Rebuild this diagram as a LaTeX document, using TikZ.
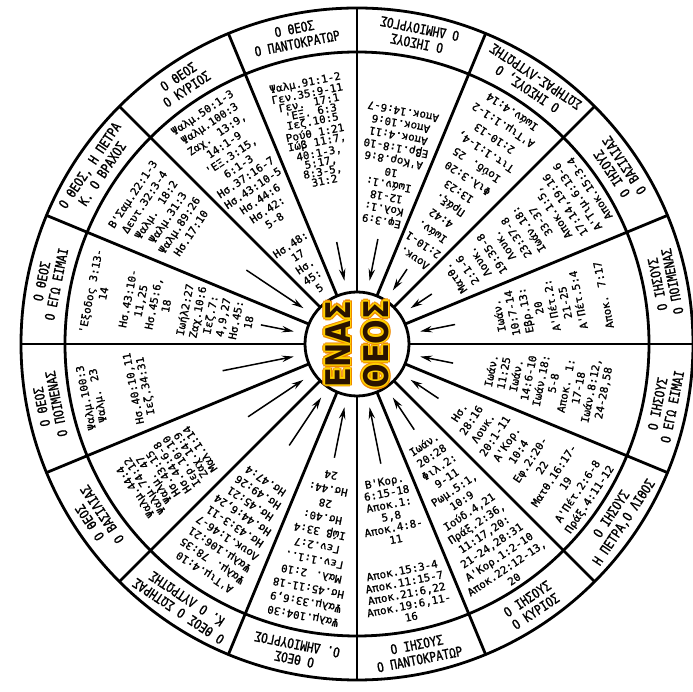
\documentclass[tikz,border=0pt]{standalone}
\usepackage{fontspec}
\usetikzlibrary{arrows.meta}
\newfontfamily\versefont[FakeStretch=1.03, FakeBold=1]{DejaVu Sans Mono}
\newfontfamily\namefont[FakeStretch=0.82, FakeBold=1]{DejaVu Sans Mono}
\newfontfamily\hubfont[FakeStretch=0.85]{DejaVu Sans Bold}
\definecolor{glowyellow}{HTML}{FFD000}
\definecolor{gloworange}{HTML}{EE8A00}
\definecolor{wordbrown}{HTML}{2A1200}

\begin{document}
\begin{tikzpicture}[x=1pt, y=1pt,
    ringline/.style={line width=2.8pt, draw=black},
    sectorname/.style={font=\namefont\fontsize{13.5}{15}\selectfont, align=center, inner sep=0pt},
    verses/.style={font=\versefont\fontsize{10.6}{#1}\selectfont, align=center, inner sep=0pt},
    hub/.style={circle, draw=black, line width=2.8pt, fill=white, minimum size=104pt, inner sep=0pt},
    word/.style={font=\hubfont\fontsize{34}{38}\selectfont, align=center, rotate=90, inner sep=0pt},
    pointer/.style={-{Stealth[length=12pt, width=6.5pt]}, line width=1.5pt, shorten >=11pt}
]
\fill[white] (-357,-348) rectangle (336,344);
\useasboundingbox (-357,-348) rectangle (336,344);

% wheel
\draw[ringline] (0,0) circle[radius=336];
\draw[ringline] (0,0) circle[radius=292];
\foreach \a in {0,22.5,...,337.5}
  \draw[ringline] (\a:52) -- (\a:336);
\node[hub] (hub) at (0,0) {};

% centre words
\foreach \k in {0,45,...,315}
  \node[word, text=gloworange] (halo\k) at (\k:2.8) {ΕΝΑΣ\\ΘΕΟΣ};
\foreach \k in {0,45,...,315}
  \node[word, text=glowyellow] (glow\k) at (\k:1.5) {ΕΝΑΣ\\ΘΕΟΣ};
\node[word, text=wordbrown] (word) at (0,0) {ΕΝΑΣ\\ΘΕΟΣ};

% arrows towards the centre
\foreach \a/\t [count=\i] in {101.25/104, 146.25/133, 168.75/98, 191.25/137,
    213.75/131, 236.25/122, 258.75/116, 281.25/122, 303.75/103, 326.25/98,
    348.75/98, 11.25/100, 33.75/90, 56.25/90, 78.75/107} {
  \coordinate (tail\i) at (\a:\t);
  \draw[pointer] (tail\i) -- (hub);
}

% names of God
\node[sectorname, rotate=11.25]  (gPant) at (101.25:314) {Ο ΘΕΟΣ\\Ο ΠΑΝΤΟΚΡΑΤΩΡ};
\node[sectorname, rotate=33.75]  (gKyr)  at (123.75:314) {Ο ΘΕΟΣ\\Ο ΚΥΡΙΟΣ};
\node[sectorname, rotate=56.25]  (gPet)  at (146.25:314) {Ο ΘΕΟΣ, Η ΠΕΤΡΑ\\Κ. Ο ΒΡΑΧΟΣ};
\node[sectorname, rotate=78.75]  (gEgo)  at (168.75:314) {Ο ΘΕΟΣ\\Ο ΕΓΩ ΕΙΜΑΙ};
\node[sectorname, rotate=101.25] (gPoi)  at (191.25:314) {Ο ΘΕΟΣ\\Ο ΠΟΙΜΕΝΑΣ};
\node[sectorname, rotate=123.75] (gBas)  at (213.75:314) {Ο ΘΕΟΣ\\Ο ΒΑΣΙΛΙΑΣ};
\node[sectorname, rotate=146.25] (gSot)  at (236.25:314) {Ο ΘΕΟΣ Ο ΣΩΤΗΡΑΣ\\Κ. Ο ΛΥΤΡΩΤΗΣ};
\node[sectorname, rotate=168.75] (gDim)  at (258.75:314) {Ο ΘΕΟΣ\\Ο. ΔΗΜΙΟΥΡΓΟΣ};

% names of Jesus
\node[sectorname, rotate=168.75] (jDim)  at (78.75:314)  {Ο ΙΗΣΟΥΣ\\Ο ΔΗΜΙΟΥΡΓΟΣ};
\node[sectorname, rotate=146.25] (jSot)  at (56.25:314)  {Ο ΙΗΣΟΥΣ, Ο\\ΣΩΤΗΡΑΣ-ΛΥΤΡΩΤΗΣ};
\node[sectorname, rotate=123.75] (jBas)  at (33.75:314)  {Ο ΙΗΣΟΥΣ\\Ο ΒΑΣΙΛΙΑΣ};
\node[sectorname, rotate=101.25] (jPoi)  at (11.25:314)  {Ο ΙΗΣΟΥΣ\\Ο ΠΟΙΜΕΝΑΣ};
\node[sectorname, rotate=78.75]  (jEgo)  at (-11.25:314) {Ο ΙΗΣΟΥΣ\\Ο ΕΓΩ ΕΙΜΑΙ};
\node[sectorname, rotate=56.25]  (jPet)  at (-33.75:314) {Ο ΙΗΣΟΥΣ\\Η ΠΕΤΡΑ,Ο ΛΙΘΟΣ};
\node[sectorname, rotate=33.75]  (jKyr)  at (-56.25:314) {Ο ΙΗΣΟΥΣ\\Ο ΚΥΡΙΟΣ};
\node[sectorname, rotate=11.25]  (jPant) at (-78.75:314) {Ο ΙΗΣΟΥΣ\\Ο ΠΑΝΤΟΚΡΑΤΩΡ};

% references, God half (first line outermost)
\node[verses=9.45, rotate=11.25, anchor=north] (gPantRef) at (101.25:271) {Ψαλμ.91:1-2\\Γεν.35:9-11\\Γεν. 17:1\\'ΕΞ. 6:3\\Ιεζ.10:5\\Ρούθ 1:21\\Ιώβ 11:7,\\40:1-3,\\5:17,\\8:3-5,\\31:2};
\node[verses=13, rotate=33.75, anchor=north] (gKyrRef) at (123.75:283) {Ψαλμ.50:1-3\\Ψαλμ.100:3\\Ζαχ. 13:9,\\14:1-9\\'ΕΞ.3:15,\\6:1-3\\Ησ.37:16-7\\Ησ.43:10-5\\Ησ.44:6\\Ησ.42:\\5-8\\[16pt]Ησ.48:\\17\\Ησ.\\45:\\5};
\node[verses=14, rotate=56.25, anchor=north] (gPetRef) at (146.25:274) {Β'Σαμ.22:1-3\\Δευτ.32:3-4\\Ψαλμ. 18:2\\Ψαλμ.31:3\\Ψαλμ.89:26\\Ησ.17:10};
\node[verses=13, rotate=78.75, anchor=north] (gEgoRef) at (168.75:276) {'Εξοδος 3:13-\\14\\[12pt]Ησ.43:10-\\11,25\\Ησ.45:6,\\18\\[6pt]Ιωήλ2:27\\Ζαχ.10:6\\Ιεζ.7:\\4,9,27\\Ησ.45:\\18};
\node[verses=12.2, rotate=101.25, anchor=north] (gPoiRef) at (191.25:281) {Ψαλμ.100:3\\Ψαλμ. 23\\[24pt]Ησ.40:10,11\\Ιεζ.34:31};
\node[verses=11.1, rotate=123.75, anchor=north] (gBasRef) at (213.75:271) {Ψαλμ.44:4\\Ψαλμ.74:12\\Ψαλμ. 47\\Ησ.43:15\\Ησ.44:6-8\\Ιερ.10:10\\Ζαχ.14:9\\Μαλ.1:14};
\node[verses=13.75, rotate=146.25, anchor=north] (gSotRef) at (236.25:279) {Α'Τιμ.4:10\\Ψαλμ. 78:35\\Ψαλμ.106:21\\Λουκ.1:46-7\\Ησ.43:3-11\\Ησ.44:6,24\\Ησ.45:21\\Ησ.49:26\\Ησ.47:4};
\node[verses=14.4, rotate=168.75, anchor=north] (gDimRef) at (258.75:282) {Ψαλμ.104:30\\Ψαλμ.33:6,9\\Ησ.45:11-18\\Μαλ. 2:10\\Γεν.1:1..\\Γεν.2:7\\Ιώβ 33:4\\Ησ.40:\\28\\Ησ.44:\\24};

% references, Jesus half (first line innermost)
\node[verses=12.4, rotate=168.75, anchor=north] (jDimRef) at (78.75:121) {Εφ.3:9\\Κολ.1:\\12-18\\Ιωάν.1:\\10\\Α'Κορ.8:6\\Εβρ.1:8-10\\Αποκ.4:11\\Αποκ.10:6\\Αποκ.14:6-7};
\node[verses=16, rotate=146.25, anchor=north] (jSotRef) at (56.25:99) {Λουκ.\\2:10-1\\Ιωάν.\\4:42\\Πράξ.\\13:23\\Φιλ.3:20\\Ιούδ. 25\\Τιτ.1:1-4,\\2:10-13\\Α'Τιμ.1:1-2\\Ιωάν.4:14};
\node[verses=14.7, rotate=123.75, anchor=north] (jBasRef) at (33.75:114) {Ματθ.\\2:1-6\\Λουκ.\\19:35-8\\Λουκ.\\23:37-8\\Ιωάν.18:\\33-37\\Αποκ.1:5,\\17:14,19:16\\Α'Τιμ.6:13-6\\Αποκ.15:3-4};
\node[verses=13.5, rotate=101.25, anchor=north] (jPoiRef) at (11.25:140) {Ιωάν.\\10:7-14\\Εβρ.13:\\20\\Α'Πέτ.2:\\21-25\\Α'Πέτ.5:4\\[12pt]Αποκ. 7:17};
\node[verses=12.7, rotate=78.75, anchor=north] (jEgoRef) at (-11.25:132) {Ιωάν.\\11:25\\Ιωάν.\\14:6-10\\Ιωάν.18:\\5-8\\Αποκ. 1:\\17-18\\Ιωάν.8:12,\\24-28,58};
\node[verses=14.2, rotate=56.25, anchor=north] (jPetRef) at (-33.75:119) {Ησ.\\28:16\\Λουκ.\\20:1-11\\Α'Κορ.\\10:4\\Εφ.2:20-\\22\\Ματθ.16:17-\\19\\Α'Πέτ.2:6-8\\Πράξ.4:11-12};
\node[verses=13.5, rotate=33.75, anchor=north] (jKyrRef) at (-56.25:116) {Ιωάν.\\20:28\\Φιλ.2:\\9-11\\Ρωμ.5:1,\\10:9\\Ιούδ.4,21\\Πράξ.2:36,\\11:17,20:\\21-24,28:31\\Α'Κορ.1:2-10\\Αποκ.22:12-13,\\20};
\node[verses=11.8, rotate=11.25, anchor=north] (jPantRef) at (-78.75:136) {Β'Κορ.\\6:15-18\\Αποκ.1:\\5,8\\Αποκ.4:8-\\11\\[20pt]Αποκ.15:3-4\\Αποκ.11:15-7\\Αποκ.21:6,22\\Αποκ.19:6,11-\\16};
\end{tikzpicture}
\end{document}
